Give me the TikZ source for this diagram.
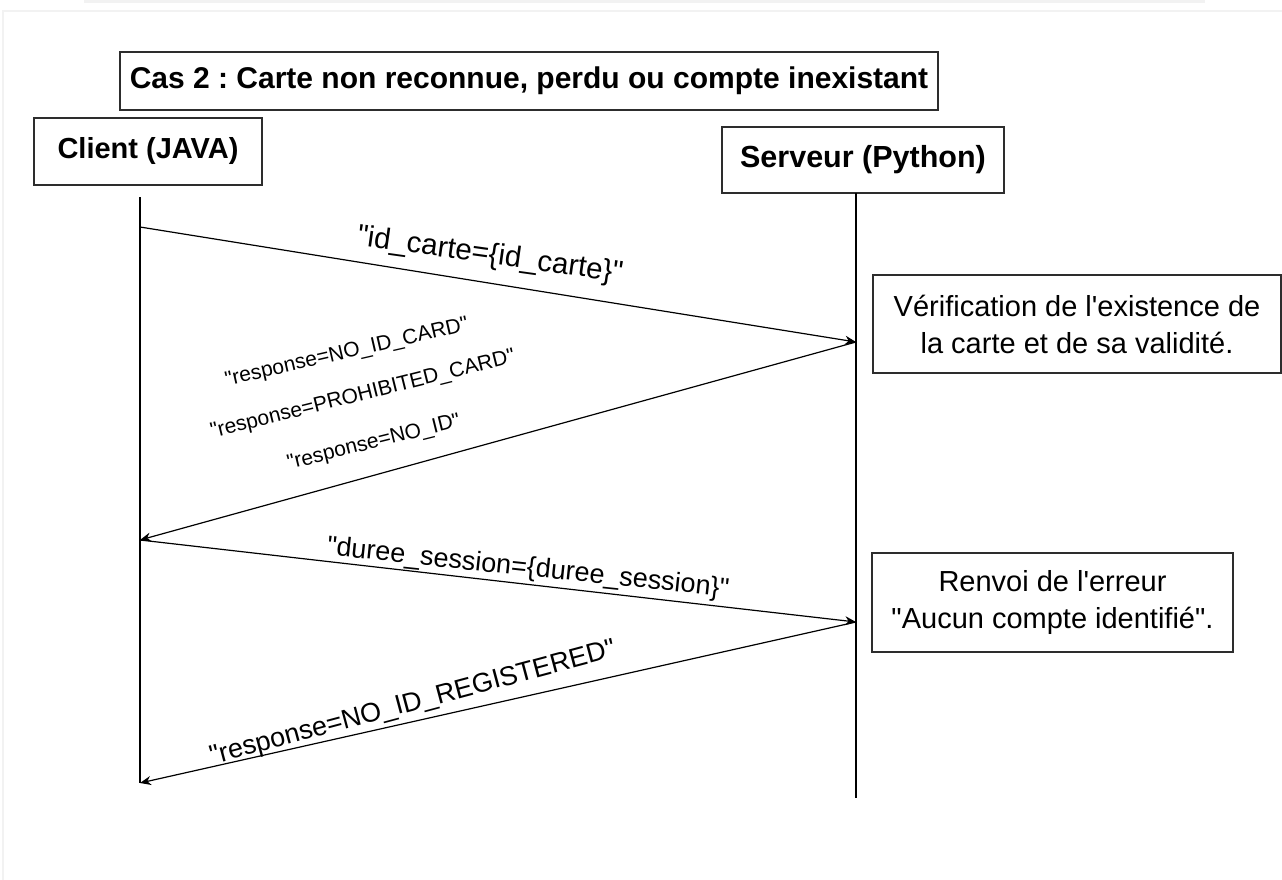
\documentclass[tikz,border=0pt]{standalone}
\usepackage{fontspec}
\setmainfont{Liberation Sans}
\usetikzlibrary{arrows.meta}
\definecolor{framegray}{RGB}{242,242,242}
\definecolor{boxborder}{RGB}{45,45,45}
\newcommand{\dq}{\textquotedbl}
\frenchspacing

\begin{document}
\begin{tikzpicture}[x=1pt, y=-1pt,
        actor/.style={rectangle, draw=boxborder, line width=1.3pt, font=\fontsize{29}{32}\selectfont\bfseries, inner sep=0pt},
        note/.style={rectangle, draw=boxborder, line width=1.3pt, font=\fontsize{29}{37}\selectfont, align=center, inner sep=0pt},
        lifeline/.style={line width=1.2pt},
        msg/.style={-{Stealth[length=11pt, width=9pt]}, line width=1.2pt},
        biglabel/.style={font=\fontsize{27}{32}\selectfont, inner sep=0pt},
        smalllabel/.style={font=\fontsize{21}{24}\selectfont, inner sep=0pt}
    ]
        \useasboundingbox (0,0) rectangle (1282,880);
        % faint page frame
        \fill[framegray] (84,0) rectangle (1205,3);
        \draw[framegray, line width=2pt] (1282,11) -- (3,11) -- (3,880);

        \node[actor, font=\fontsize{30}{32}\selectfont\bfseries, minimum width=818pt, minimum height=58pt] (cas) at (529,81) {Cas 2 : Carte non reconnue, perdu ou compte inexistant};
        \node[actor, minimum width=228pt, minimum height=67pt] (client) at (148,151.5) {Client (JAVA)};
        \node[actor, font=\fontsize{30.5}{32}\selectfont\bfseries, minimum width=282pt, minimum height=66pt] (serveur) at (863,160) {Serveur (Python)};

        \node[note, minimum width=408pt, minimum height=98pt] (verif) at (1077,324) {V\'erification de l\textquotesingle existence de\\la carte et de sa validit\'e.};
        \node[note, minimum width=361pt, minimum height=99pt] (renvoi) at (1052.5,602.5) {Renvoi de l\textquotesingle erreur\\\dq Aucun compte identifi\'e\dq.};

        % lifelines
        \coordinate (cltop) at (140,197);
        \coordinate (clbot) at (140,783);
        \coordinate (svtop) at (856,193);
        \coordinate (svbot) at (856,798);
        \draw[lifeline] (cltop) -- (clbot);
        \draw[lifeline] (svtop) -- (svbot);

        % message points
        \coordinate (cl1) at (140,227);
        \coordinate (sv1) at (856,342);
        \coordinate (cl2) at (140,540);
        \coordinate (sv2) at (856,622);

        \draw[msg] (cl1) -- (sv1);
        \draw[msg] (sv1) -- (cl2);
        \draw[msg] (cl2) -- (sv2);
        \draw[msg] (sv2) -- (clbot);

        \node[biglabel, font=\fontsize{29.5}{32}\selectfont, rotate=-8] (lcarte) at (490,256) {\dq id\_carte=\{id\_carte\}\dq};
        \node[smalllabel, rotate=13] (lnocard) at (347,353) {\dq response=NO\_ID\_CARD\dq};
        \node[smalllabel, rotate=14] (lprohib) at (363,395) {\dq response=PROHIBITED\_CARD\dq};
        \node[smalllabel, rotate=14] (lnoid) at (374,443) {\dq response=NO\_ID\dq};
        \node[biglabel, rotate=-6] (lduree) at (528,569) {\dq duree\_session=\{duree\_session\}\dq};
        \node[biglabel, rotate=15] (lregist) at (413,704) {\dq response=NO\_ID\_REGISTERED\dq};
    \end{tikzpicture}
\end{document}
